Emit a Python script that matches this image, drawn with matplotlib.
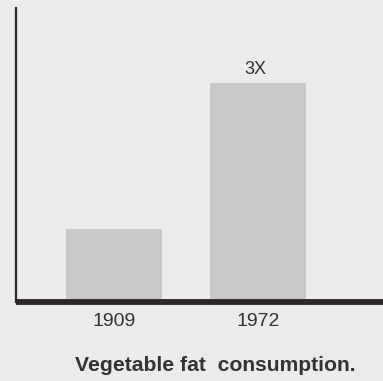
import numpy as np
import matplotlib.pyplot as plt

plt.rcParams['font.family'] = ['Liberation Sans', 'DejaVu Sans']

# per-capita vegetable fat use, 1909 = 1
years = ["1909", "1972"]
relative_use = [1, 3]
bar_labels = ["", "3X"]

bg = '#ebebe9'
fig = plt.figure(figsize=(3.83, 3.81), dpi=100, facecolor=bg)
ax = fig.add_axes([16/383, 79/381, 1 - 16/383, 294/381])
ax.set_facecolor(bg)

x = np.arange(len(years))
bars = ax.bar(x, relative_use, width=0.67, color='#c9c9c8', edgecolor='none', zorder=1)
for b, lab in zip(bars, bar_labels):
    if lab:
        ax.text(b.get_x() + b.get_width()/2 - 0.02, b.get_height() + 0.06, lab,
                ha='center', va='bottom', fontsize=13, color='#333333')

ax.set_xlim(-0.68, 1.87)
ax.set_ylim(0, 4.02)
ax.set_xticks(x)
ax.set_xticklabels(years, fontsize=14, color='#333333')
ax.tick_params(axis='x', length=0, pad=8)
ax.set_yticks([])

for s in ['top', 'right']:
    ax.spines[s].set_visible(False)
ax.spines['left'].set_linewidth(1.6)
ax.spines['left'].set_color('#2b2628')
ax.spines['bottom'].set_linewidth(4.2)
ax.spines['bottom'].set_color('#2b2628')
ax.spines['bottom'].set_capstyle('butt')

fig.text(215/383, 10/381, "Vegetable fat  consumption.", ha='center', va='baseline',
         fontsize=15.2, fontweight='bold', color='#333333')

fig.savefig("out.png", dpi=100, facecolor=bg)
